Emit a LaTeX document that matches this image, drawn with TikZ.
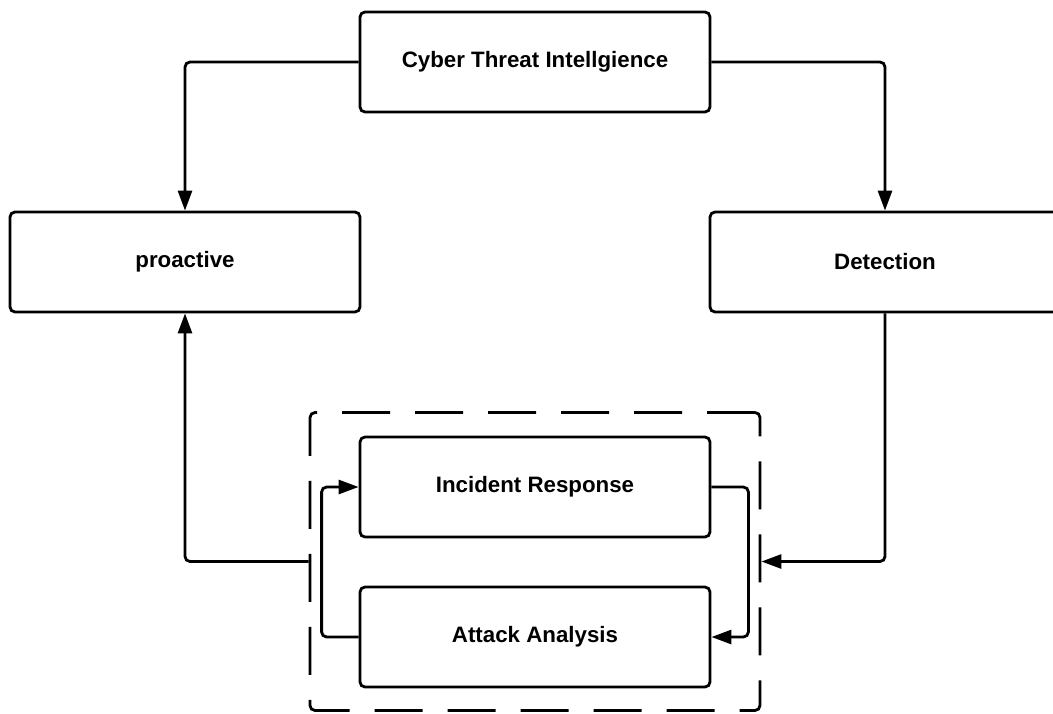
\documentclass[tikz,border=0pt]{standalone}
\usepackage{fontspec}
\setmainfont{Liberation Sans}
\usetikzlibrary{arrows.meta}
\tikzset{
  box/.style={draw, line width=2.8pt, rounded corners=5pt, minimum width=350pt, minimum height=100pt, inner sep=0pt, font=\fontsize{22.3}{26}\selectfont\bfseries, fill=white},
  conn/.style={line width=2.8pt, rounded corners=5pt, -{Triangle[length=20pt,width=14pt]}},
  group/.style={draw, line width=2.8pt, rounded corners=5pt, dash pattern=on 48pt off 25pt, minimum width=450pt, minimum height=298pt, inner sep=0pt}
}
\begin{document}
\begin{tikzpicture}[x=1pt,y=-1pt]
\useasboundingbox (0,0) rectangle (1053,713);
\clip (0,0) rectangle (1053,713);
\node[group] (grp) at (535,561.5) {};
\node[box] (cti) at (535,62) {Cyber Threat Intellgience};
\node[box] (pro) at (185,262) {proactive};
\node[box] (det) at (885,262) {Detection};
\node[box] (inc) at (535,487) {Incident Response};
\node[box] (att) at (535,637) {Attack Analysis};
\draw[conn] (cti.west) -| (pro.north);
\draw[conn] (cti.east) -| (det.north);
\draw[conn] (det.south) |- (grp.east);
\draw[conn] (grp.west) -| (pro.south);
\draw[conn] (inc.east) -- ++(37,0) |- (att.east);
\draw[conn] (att.west) -- ++(-37,0) |- (inc.west);
\end{tikzpicture}
\end{document}
